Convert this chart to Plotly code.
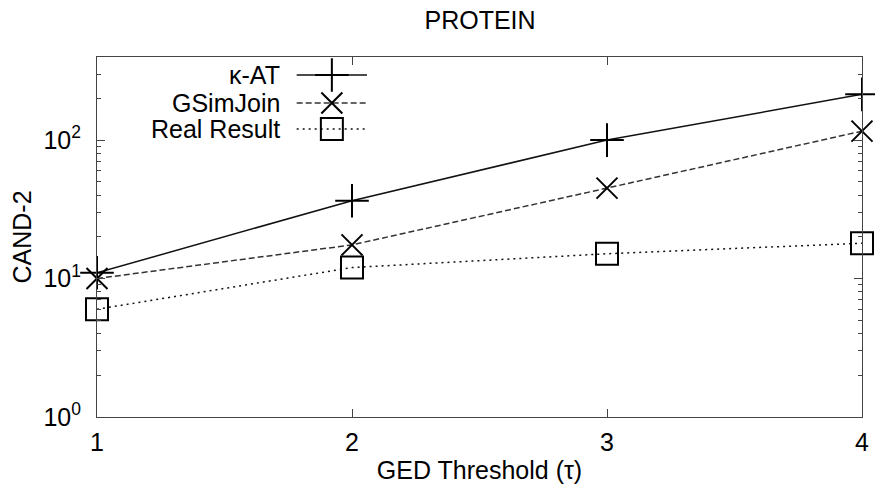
import plotly.graph_objects as go

tau = [1, 2, 3, 4]
kat = [11, 36.5, 100, 214]
gsim = [10, 17.5, 45, 116]
real = [6, 12, 15.1, 18]
series_names = ["κ-AT", "GSimJoin", "Real Result"]
ytick_vals = [1, 10, 100]
ytick_text = ["10<sup>0</sup>", "10<sup>1</sup>", "10<sup>2</sup>"]
minor_vals = [m * d for d in [1, 10, 100] for m in range(2, 10)]

FONT = "Liberation Sans, Arial, sans-serif"
FS = 25
styles = [
    dict(dash="solid", symbol="cross-thin-open", size=24, color="#111"),
    dict(dash="6px,3px", symbol="x-thin-open", size=21, color="#333"),
    dict(dash="2px,4px", symbol="square-open", size=22, color="#111"),
]

fig = go.Figure()
for name, vals, st in zip(series_names, [kat, gsim, real], styles):
    fig.add_trace(go.Scatter(
        x=tau, y=vals, mode="lines+markers", name=name, showlegend=False,
        cliponaxis=False,
        line=dict(color=st["color"], width=1.5, dash=st["dash"]),
        marker=dict(symbol=st["symbol"], size=st["size"], color="#000",
                    line=dict(width=2, color="#000")),
    ))

# custom gnuplot-style legend (text on left, sample on right), on an overlay axis
leg_y = [0.95, 0.872, 0.8]
for name, ly, st in zip(series_names, leg_y, styles):
    fig.add_trace(go.Scatter(
        x=[0.261, 0.353], y=[ly, ly], xaxis="x2", yaxis="y2", mode="lines",
        line=dict(color=st["color"], width=1.5, dash=st["dash"]), showlegend=False,
        hoverinfo="skip"))
    fig.add_trace(go.Scatter(
        x=[0.307], y=[ly], xaxis="x2", yaxis="y2", mode="markers",
        marker=dict(symbol=st["symbol"], size=st["size"], color="#000",
                    line=dict(width=2, color="#000")), showlegend=False,
        hoverinfo="skip"))
    fig.add_annotation(x=0.2417, y=ly, xref="x2", yref="y2", text=name,
                       showarrow=False, xanchor="right", yanchor="middle",
                       font=dict(family=FONT, size=FS, color="#000"))

fig.update_layout(
    width=875, height=497,
    margin=dict(l=97, r=12.5, t=57, b=80, autoexpand=False),
    paper_bgcolor="white", plot_bgcolor="white",
    title=dict(text="PROTEIN", x=0.5486, xanchor="center", y=0.96, yanchor="middle",
               font=dict(family=FONT, size=FS, color="#000"), automargin=False),
    font=dict(family=FONT, color="#000", size=FS),
    xaxis=dict(range=[1, 4], tickvals=tau, ticks="inside", ticklen=8,
               showgrid=False, zeroline=False, showline=True, linecolor="#444",
               linewidth=1, mirror="ticks", tickcolor="#444",
               tickfont=dict(family=FONT, size=FS), automargin=False,
               ticklabelstandoff=3,
               title=dict(text="GED Threshold (τ)", font=dict(family=FONT, size=FS),
                          standoff=6)),
    yaxis=dict(type="log", range=[0, 2.6], tickvals=ytick_vals, ticktext=ytick_text,
               ticks="inside", ticklen=8, showgrid=False, zeroline=False,
               showline=True, linecolor="#444", linewidth=1, mirror="ticks",
               tickcolor="#444", tickfont=dict(family=FONT, size=FS),
               ticklabelstandoff=10, automargin=False,
               minor=dict(tickvals=minor_vals, ticks="inside", ticklen=4,
                          tickcolor="#444", showgrid=False),
               title=dict(text="CAND-2", font=dict(family=FONT, size=FS),
                          standoff=4)),
    xaxis2=dict(range=[0, 1], overlaying="x", visible=False, fixedrange=True),
    yaxis2=dict(range=[0, 1], overlaying="y", visible=False, fixedrange=True),
)

fig.write_html("out.html")
